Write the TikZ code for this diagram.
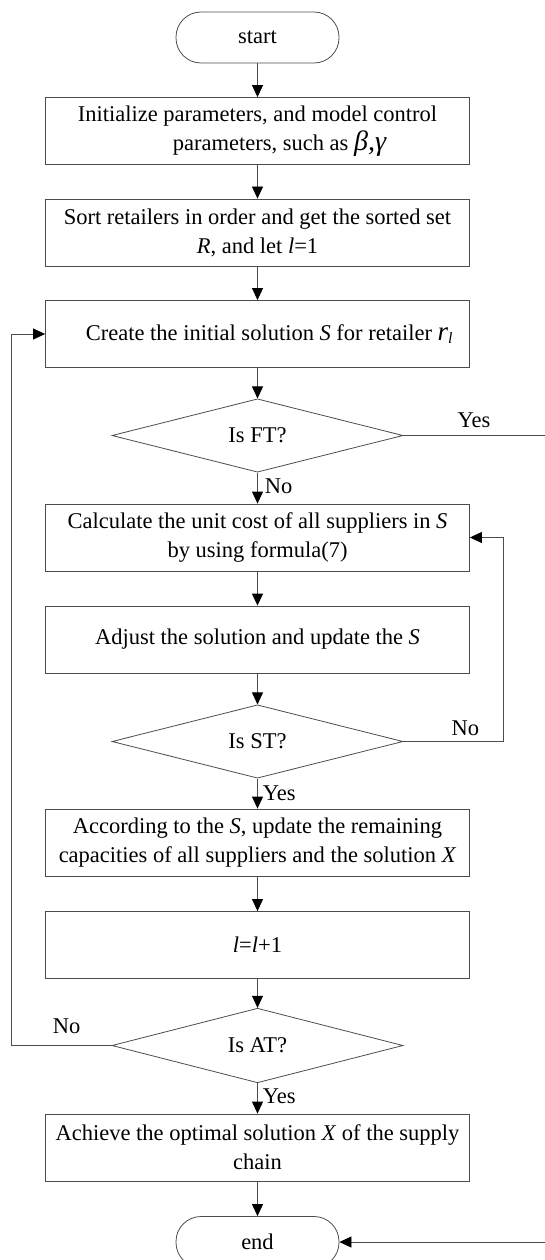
\documentclass[tikz,border=0pt]{standalone}
\usepackage{fontspec}
\setmainfont{Liberation Serif}
\usetikzlibrary{shapes.geometric, arrows.meta}

\begin{document}
\begin{tikzpicture}[x=1pt, y=-1pt,
    font=\fontsize{22.5}{29}\selectfont,
    terminal/.style={draw=black!70, line width=0.8pt, rounded corners=25pt,
        minimum width=163pt, minimum height=51pt},
    process/.style={draw=black!70, line width=0.8pt, align=center,
        minimum width=424pt, minimum height=67pt, inner sep=2pt},
    decision/.style={draw=black!70, line width=0.8pt, diamond,
        minimum width=291pt, minimum height=67pt, inner sep=0pt},
    flow/.style={draw=black!70, line width=0.8pt,
        -{Triangle[width=11pt, length=12pt, black]}},
    lbl/.style={inner sep=2pt}]
    \useasboundingbox (0,0) rectangle (545,1260);

    \node[terminal](start)  at (257.5,37.5)   {start};
    \node[process](init)    at (257.5,131)    {Initialize parameters, and model control\\
        \hspace*{44pt}parameters, such as {\itshape\fontsize{28}{29}\selectfont β,γ}};
    \node[process](sort)    at (257.5,232.5)  {Sort retailers in order and get the sorted set\\
        \textit{R}, and let \textit{l}=1};
    \node[process](create)  at (257.5,334)    {\hspace*{24pt}Create the initial solution \textit{S}
        for retailer {\fontsize{27}{29}\selectfont\textit{r}}\textsubscript{\textit{l}}};
    \node[decision](isft)   at (257.5,435.5)  {Is FT?};
    \node[process](calc)    at (257.5,537.5)  {Calculate the unit cost of all suppliers in \textit{S}\\
        by using formula(7)};
    \node[process](adjust)  at (257.5,639.5)  {Adjust the solution and update the \textit{S}};
    \node[decision](isst)   at (257.5,741.5)  {Is ST?};
    \node[process](update)  at (257.5,842.5)  {According to the \textit{S}, update the remaining\\
        capacities of all suppliers and the solution \textit{X}};
    \node[process](incr)    at (257.5,945)    {\textit{l}=\textit{l}+1};
    \node[decision](isat)   at (257.5,1045.5) {Is AT?};
    \node[process](achieve) at (257.5,1147.5) {Achieve the optimal solution \textit{X} of the supply\\
        chain};
    \node[terminal](stop)   at (257.5,1242)   {end};

    \path
        (start)   edge [flow] (init)
        (init)    edge [flow] (sort)
        (sort)    edge [flow] (create)
        (create)  edge [flow] (isft)
        (isft)    edge [flow] node[lbl, anchor=west, pos=0.45, xshift=5pt] {No} (calc)
        (calc)    edge [flow] (adjust)
        (adjust)  edge [flow] (isst)
        (isst)    edge [flow] node[lbl, anchor=west, pos=0.5, xshift=3pt] {Yes} (update)
        (update)  edge [flow] (incr)
        (incr)    edge [flow] (isat)
        (isat)    edge [flow] node[lbl, anchor=west, pos=0.42, xshift=3pt] {Yes} (achieve)
        (achieve) edge [flow] (stop)
        ;

    % loops back and the exit
    \draw[flow] (isst.east) -- node[lbl, above=3pt, pos=0.62] {No} ++(100,0) |- (calc.east);
    \draw[flow] (isat.west) -- node[lbl, above=9pt, pos=0.45] {No} ++(-100,0) |- (create.west);
    \draw[flow] (isft.east) -- node[lbl, above=5pt, pos=0.49] {Yes} ++(144,0) |- (stop.east);
\end{tikzpicture}
\end{document}
